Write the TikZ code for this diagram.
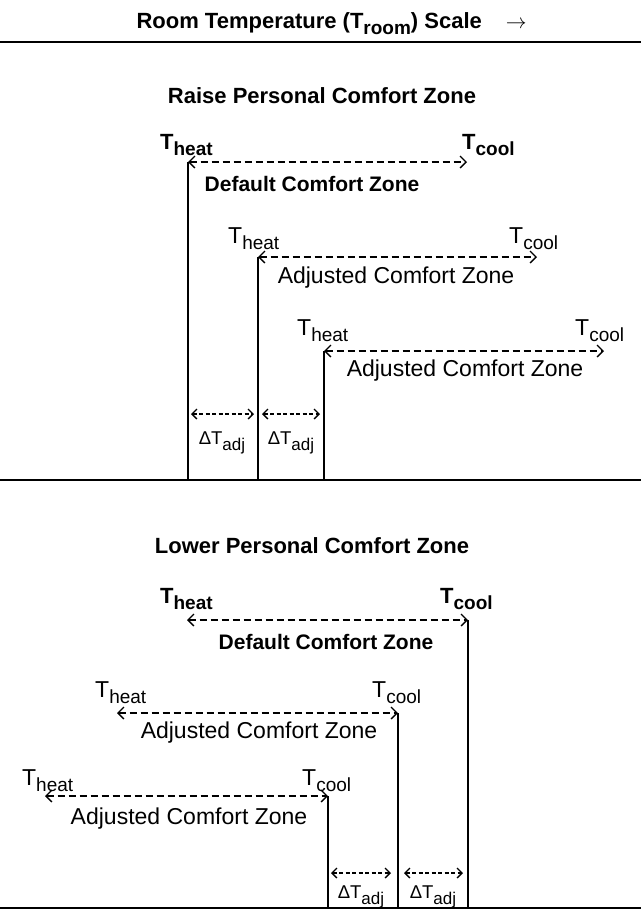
\documentclass[tikz,border=0pt]{standalone}
\usepackage{fontspec}
\setmainfont{Liberation Sans}
\usetikzlibrary{arrows.meta}
\newcommand\tsub[1]{T\raisebox{-0.3em}{\fontsize{19}{19}\selectfont #1}}
\newcommand\dtadj{ΔT\raisebox{-0.3em}{\fontsize{17}{17}\selectfont adj}}
\begin{document}
\begin{tikzpicture}[x=1pt,y=-1pt,
  rule/.style={line width=1.4pt},
  post/.style={line width=1.4pt},
  zone/.style={line width=1.2pt,dash pattern=on 7pt off 4pt,
    {Straight Barb[length=6pt,width=12pt,line width=1.3pt]}-{Straight Barb[length=6pt,width=12pt,line width=1.3pt]}},
  deltaarrow/.style={line width=1.2pt,dash pattern=on 4pt off 2.5pt,
    {Straight Barb[length=5pt,width=10pt,line width=1.3pt]}-{Straight Barb[length=5pt,width=10pt,line width=1.3pt]}},
  head/.style={font=\bfseries\fontsize{22}{26}\selectfont},
  blab/.style={font=\bfseries\fontsize{21}{24}\selectfont,inner sep=0pt},
  rlab/.style={font=\fontsize{23}{26}\selectfont,inner sep=0pt},
  tlab/.style={font=\fontsize{23}{26}\selectfont,inner sep=0pt,anchor=base west},
  tblab/.style={font=\bfseries\fontsize{22}{26}\selectfont,inner sep=0pt,anchor=base west},
  dlab/.style={font=\fontsize{18.5}{20}\selectfont,inner sep=0pt}]
\useasboundingbox (0,0) rectangle (641,911);
\fill[white] (0,0) rectangle (641,911);

% scale heading and rules
\node[head,anchor=base west] (title) at (133,28) {Room Temperature (\tsub{room}) Scale\hspace{24pt}$\rightarrow$};
\coordinate (r1l) at (0,42);  \coordinate (r1r) at (641,42);
\coordinate (r2l) at (0,480); \coordinate (r2r) at (641,480);
\coordinate (r3l) at (0,908); \coordinate (r3r) at (641,908);
\draw[rule] (r1l) -- (r1r);
\draw[rule] (r2l) -- (r2r);
\draw[rule] (r3l) -- (r3r);

% ---------- raising the comfort zone ----------
\node[head] (raise) at (322,96) {Raise Personal Comfort Zone};

\coordinate (a1) at (188,162); \coordinate (a2) at (467,162); \coordinate (a0) at (188,480);
\node[tblab] (ah) at (160,149) {\tsub{heat}};
\node[tblab] (ac) at (462,149) {\tsub{cool}};
\draw[zone] (a1) -- (a2);
\draw[post] (a1) -- (a0);
\node[blab] (az) at (312,184) {Default Comfort Zone};

\coordinate (b1) at (258,257); \coordinate (b2) at (537,257); \coordinate (b0) at (258,480);
\node[tlab] (bh) at (228,243) {\tsub{heat}};
\node[tlab] (bc) at (509,243) {\tsub{cool}};
\draw[zone] (b1) -- (b2);
\draw[post] (b1) -- (b0);
\node[rlab] (bz) at (396,278) {Adjusted Comfort Zone};

\coordinate (c1) at (324,351); \coordinate (c2) at (604,351); \coordinate (c0) at (324,480);
\node[tlab] (ch) at (297,335) {\tsub{heat}};
\node[tlab] (cc) at (575,335) {\tsub{cool}};
\draw[zone] (c1) -- (c2);
\draw[post] (c1) -- (c0);
\node[rlab] (cz) at (465,371) {Adjusted Comfort Zone};

\coordinate (s1) at (191,414); \coordinate (s2) at (254,414);
\coordinate (s3) at (262,414); \coordinate (s4) at (320,414);
\draw[deltaarrow] (s1) -- (s2);
\draw[deltaarrow] (s3) -- (s4);
\node[dlab] (sd1) at (222,443) {\dtadj};
\node[dlab] (sd2) at (291,443) {\dtadj};

% ---------- lowering the comfort zone ----------
\node[head] (lower) at (312,546) {Lower Personal Comfort Zone};

\coordinate (d1) at (187,620); \coordinate (d2) at (468,620); \coordinate (d0) at (468,908);
\node[tblab] (dh) at (160,603) {\tsub{heat}};
\node[tblab] (dc) at (440,603) {\tsub{cool}};
\draw[zone] (d1) -- (d2);
\draw[post] (d2) -- (d0);
\node[blab] (dz) at (326,642) {Default Comfort Zone};

\coordinate (e1) at (117,713); \coordinate (e2) at (398,713); \coordinate (e0) at (398,908);
\node[tlab] (eh) at (95,697) {\tsub{heat}};
\node[tlab] (ec) at (372,697) {\tsub{cool}};
\draw[zone] (e1) -- (e2);
\draw[post] (e2) -- (e0);
\node[rlab] (ez) at (259,733) {Adjusted Comfort Zone};

\coordinate (f1) at (45,796); \coordinate (f2) at (328,796); \coordinate (f0) at (328,908);
\node[tlab] (fh) at (22,785) {\tsub{heat}};
\node[tlab] (fc) at (302,785) {\tsub{cool}};
\draw[zone] (f1) -- (f2);
\draw[post] (f2) -- (f0);
\node[rlab] (fz) at (189,819) {Adjusted Comfort Zone};

\coordinate (g1) at (331,873); \coordinate (g2) at (391,873);
\coordinate (g3) at (404,873); \coordinate (g4) at (463,873);
\draw[deltaarrow] (g1) -- (g2);
\draw[deltaarrow] (g3) -- (g4);
\node[dlab] (gd1) at (361,897) {\dtadj};
\node[dlab] (gd2) at (433,897) {\dtadj};
\end{tikzpicture}
\end{document}
